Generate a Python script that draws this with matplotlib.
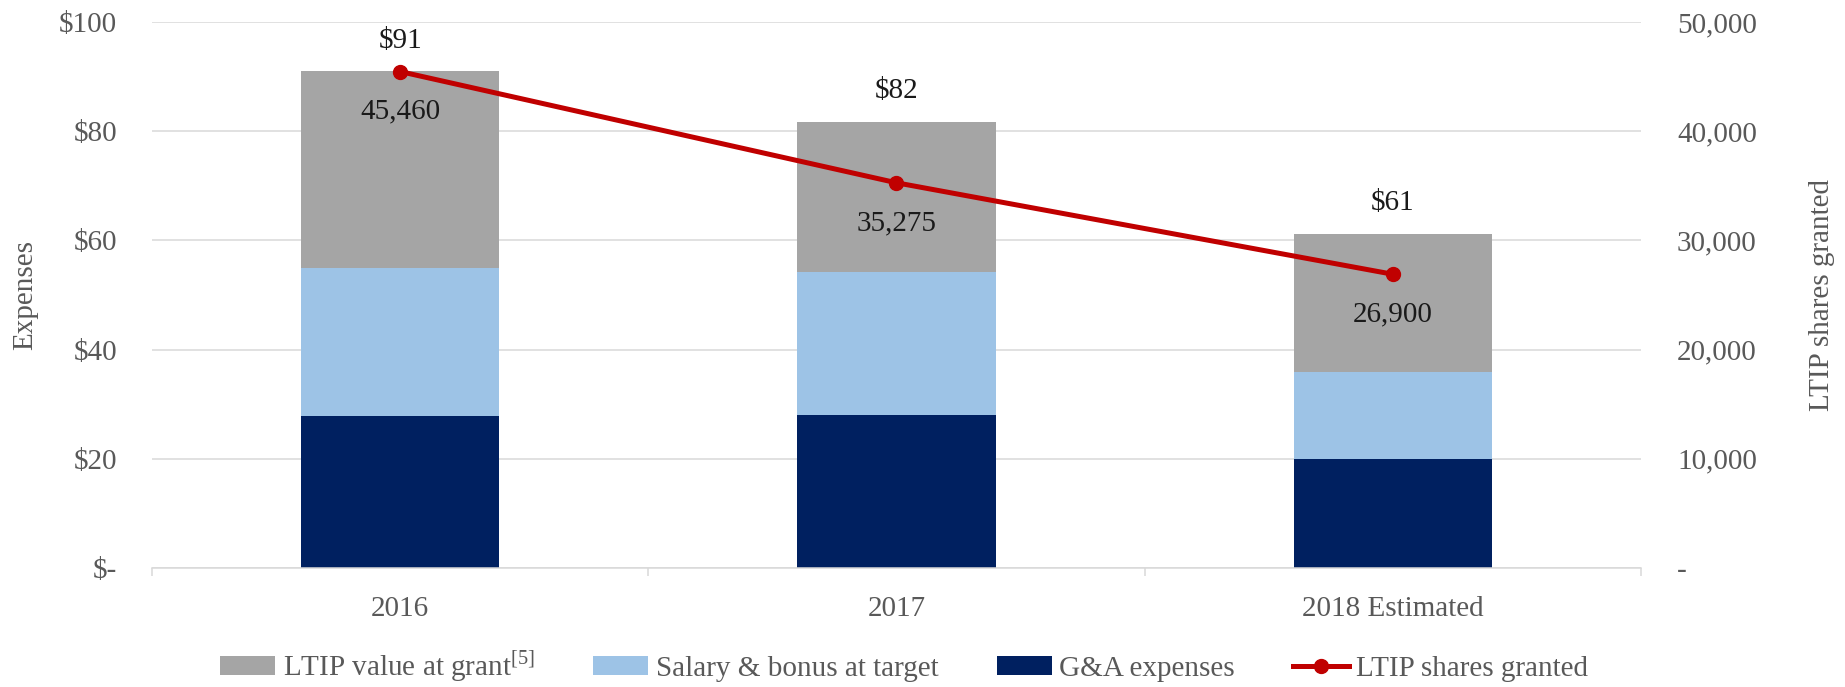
import matplotlib
matplotlib.use("Agg")
import matplotlib.pyplot as plt
from matplotlib.ticker import FuncFormatter

# -------- DATA --------
years = ["2016", "2017", "2018 Estimated"]
ga_expenses = [27.9, 28.0, 20.0]
salary_bonus = [27.1, 26.3, 15.9]
ltip_value = [36.0, 27.4, 25.3]
totals = ["$91", "$82", "$61"]
ltip_shares = [45460, 35275, 26900]

# -------- STYLE --------
plt.rcParams["font.family"] = ["Liberation Serif", "DejaVu Serif"]
plt.rcParams["mathtext.fontset"] = "custom"
plt.rcParams["mathtext.rm"] = "Liberation Serif"
FS = 21
GREY_TXT = "#595959"
GRID = "#D9D9D9"

fig, ax = plt.subplots(figsize=(18.45, 6.87), dpi=100)
fig.subplots_adjust(left=0.0824, right=0.8894, top=0.968, bottom=0.1732)

x = list(range(len(years)))
w = 0.40
b1 = ax.bar(x, ga_expenses, w, color="#002060", label="G&A expenses", zorder=2)
bottom2 = ga_expenses
b2 = ax.bar(x, salary_bonus, w, bottom=bottom2, color="#9DC3E6",
            label="Salary & bonus at target", zorder=2)
bottom3 = [a + b for a, b in zip(ga_expenses, salary_bonus)]
b3 = ax.bar(x, ltip_value, w, bottom=bottom3, color="#A5A5A5",
            label=r"LTIP value at grant$^{\mathrm{[5]}}$", zorder=2)

# total labels above bars
for xi, base, h, txt in zip(x, bottom3, ltip_value, totals):
    ax.annotate(txt, (xi, base + h), xytext=(0, 22), textcoords="offset points",
                ha="center", va="center", fontsize=FS, color="#1a1a1a")

ax.set_xlim(-0.5, 2.5)
ax.set_ylim(0, 100)
ax.set_yticks([0, 20, 40, 60, 80, 100])
ax.yaxis.set_major_formatter(FuncFormatter(lambda v, p: "$-" if v == 0 else f"${v:.0f}"))
ax.grid(axis="y", color=GRID, linewidth=1.1, zorder=0)
ax.set_axisbelow(True)

ax.set_xticks(x)
ax.set_xticklabels(years)
ax.set_xticks([-0.5, 0.5, 1.5, 2.5], minor=True)
ax.tick_params(axis="x", which="major", length=0, pad=20, labelsize=FS, labelcolor=GREY_TXT)
ax.tick_params(axis="x", which="minor", length=6, width=1.1, color=GRID, direction="out")
ax.tick_params(axis="y", length=0, pad=25, labelsize=FS, labelcolor=GREY_TXT)

for s in ["top", "right", "left"]:
    ax.spines[s].set_visible(False)
ax.spines["bottom"].set_color(GRID)
ax.spines["bottom"].set_linewidth(1.1)

ax.set_ylabel("Expenses", fontsize=FS, color=GREY_TXT)
ax.yaxis.set_label_coords(-0.0766, 0.5)

# -------- SECONDARY AXIS --------
ax2 = ax.twinx()
line, = ax2.plot(x, ltip_shares, color="#C00000", linewidth=3.6, marker="o",
                 markersize=10, label="LTIP shares granted", zorder=3)
for xi, v in zip(x, ltip_shares):
    ax2.annotate(f"{v:,}", (xi, v), xytext=(0, -29), textcoords="offset points",
                 ha="center", va="center", fontsize=FS, color="#1a1a1a")

ax2.set_ylim(0, 50000)
ax2.set_yticks([0, 10000, 20000, 30000, 40000, 50000])
ax2.yaxis.set_major_formatter(FuncFormatter(lambda v, p: "-" if v == 0 else f"{v:,.0f}"))
ax2.tick_params(axis="y", length=0, pad=26, labelsize=FS, labelcolor=GREY_TXT)
for s in ax2.spines.values():
    s.set_visible(False)
ax2.set_ylabel("LTIP shares granted", fontsize=FS, color=GREY_TXT)
ax2.yaxis.set_label_coords(1.113, 0.5)

# -------- LEGEND --------
handles = [b3, b2, b1, line]
labels = [h.get_label() for h in handles]
leg = fig.legend(handles, labels, loc="center", bbox_to_anchor=(0.49, 0.03),
                 ncol=4, frameon=False, fontsize=FS, handlelength=1.9,
                 handleheight=0.6, handletextpad=0.25, columnspacing=2.0,
                 labelcolor=GREY_TXT)

plt.savefig("out.png", dpi=100)
